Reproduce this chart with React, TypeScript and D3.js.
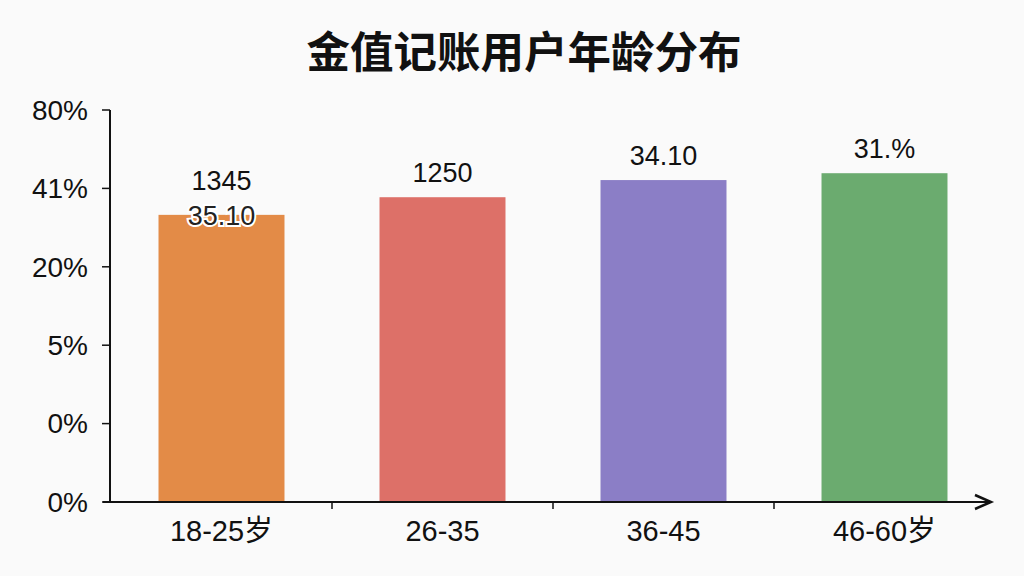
import React, { useEffect, useRef } from 'react';
import * as d3 from 'd3';

// chart data
const categories = ['18-25岁', '26-35', '36-45', '46-60岁'];
const shareValues = [58.6, 62.2, 65.7, 67.1];
const barLabels = ['1345', '1250', '34.10', '31.%'];
const firstBarSubLabel = '35.10';
const yTickLabels = ['0%', '0%', '5%', '20%', '41%', '80%'];
const barColors = ['#E38B47', '#DD7068', '#8B7EC6', '#6BAB6F'];

const App: React.FC = () => {
  const svgRef = useRef<SVGSVGElement | null>(null);

  useEffect(() => {
    const svg = d3.select(svgRef.current);
    svg.selectAll('*').remove();
    const width = 1024;
    const height = 576;
    const top = 110;
    const bottom = 502;
    const left = 110;
    const font = 'Arial, "Liberation Sans", "Noto Sans CJK SC", sans-serif';

    svg.append('rect').attr('width', width).attr('height', height).attr('fill', '#fafafa');

    svg.append('text')
      .attr('x', 524)
      .attr('y', 68)
      .attr('text-anchor', 'middle')
      .attr('font-family', '"Noto Sans CJK SC", sans-serif')
      .attr('font-weight', 700)
      .attr('font-size', 43.5)
      .attr('fill', '#111')
      .text('金值记账用户年龄分布');

    const x = d3.scaleBand().domain(categories).range([111, 995]).paddingInner(0.43).paddingOuter(0.215);
    const y = d3.scaleLinear().domain([0, 80]).range([bottom, top]);
    const yTicks = d3.scalePoint<number>().domain(d3.range(yTickLabels.length)).range([bottom, top]);

    // bars
    svg.selectAll('rect.bar')
      .data(shareValues)
      .join('rect')
      .attr('class', 'bar')
      .attr('x', (_, i) => x(categories[i])!)
      .attr('y', (d) => y(d))
      .attr('width', x.bandwidth())
      .attr('height', (d) => bottom - y(d))
      .attr('fill', (_, i) => barColors[i]);

    // value labels
    svg.selectAll('text.val')
      .data(shareValues)
      .join('text')
      .attr('class', 'val')
      .attr('x', (_, i) => x(categories[i])! + x.bandwidth() / 2)
      .attr('y', (d, i) => y(d) - (i === 0 ? 25 : 15))
      .attr('text-anchor', 'middle')
      .attr('font-family', font)
      .attr('font-size', 27)
      .attr('fill', '#111')
      .text((_, i) => barLabels[i]);

    svg.append('text')
      .attr('x', x(categories[0])! + x.bandwidth() / 2)
      .attr('y', y(shareValues[0]) + 10)
      .attr('text-anchor', 'middle')
      .attr('font-family', font)
      .attr('font-size', 27)
      .attr('fill', '#222')
      .attr('stroke', '#fff')
      .attr('stroke-width', 4)
      .attr('paint-order', 'stroke')
      .text(firstBarSubLabel);

    // y axis
    svg.append('line')
      .attr('x1', left).attr('x2', left).attr('y1', top).attr('y2', bottom)
      .attr('stroke', '#111').attr('stroke-width', 2);
    const yt = svg.selectAll('g.ytick')
      .data(yTickLabels)
      .join('g')
      .attr('class', 'ytick')
      .attr('transform', (_, i) => `translate(0,${yTicks(i)})`);
    yt.append('line').attr('x1', left - 8).attr('x2', left).attr('stroke', '#111').attr('stroke-width', 1.5);
    yt.append('text')
      .attr('x', 88)
      .attr('dy', '0.35em')
      .attr('text-anchor', 'end')
      .attr('font-family', font)
      .attr('font-size', 28)
      .attr('fill', '#111')
      .text((d) => d);

    // x axis with arrow
    svg.append('line')
      .attr('x1', 103).attr('x2', 988).attr('y1', bottom).attr('y2', bottom)
      .attr('stroke', '#111').attr('stroke-width', 2);
    svg.append('path')
      .attr('d', `M975,${bottom - 7} L991,${bottom} L975,${bottom + 7}`)
      .attr('fill', 'none').attr('stroke', '#111').attr('stroke-width', 2.5);

    const step = x.step();
    svg.selectAll('line.xtick')
      .data(categories.slice(1))
      .join('line')
      .attr('class', 'xtick')
      .attr('x1', (d) => x(d)! - (step - x.bandwidth()) / 2)
      .attr('x2', (d) => x(d)! - (step - x.bandwidth()) / 2)
      .attr('y1', bottom)
      .attr('y2', bottom + 7)
      .attr('stroke', '#111')
      .attr('stroke-width', 1.5);

    svg.selectAll('text.cat')
      .data(categories)
      .join('text')
      .attr('class', 'cat')
      .attr('x', (d) => x(d)! + x.bandwidth() / 2)
      .attr('y', 541)
      .attr('text-anchor', 'middle')
      .attr('font-family', '"Liberation Sans Narrow", Arial, "Noto Sans CJK SC", sans-serif')
      .attr('font-size', 29)
      .attr('fill', '#111')
      .text((d) => d);
  }, []);

  return (
    <svg ref={svgRef} width="1024" height="576" style={{ position: 'absolute', left: 0, top: 0 }} />
  );
};

export default App;
